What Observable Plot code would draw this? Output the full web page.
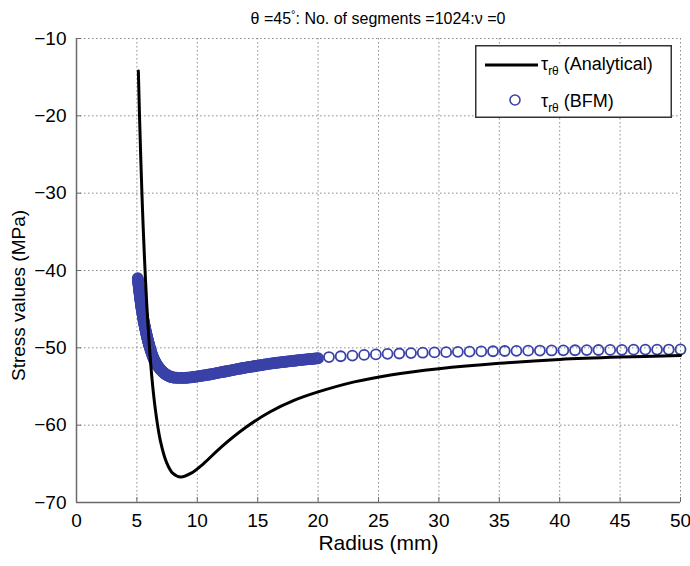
<!DOCTYPE html>
<html><head><meta charset="utf-8">
<script src="https://cdn.jsdelivr.net/npm/d3@7"></script>
<script src="https://cdn.jsdelivr.net/npm/@observablehq/plot@0.6"></script>
<style>
body{margin:0;background:#fff;font-family:"Liberation Sans",Arial,sans-serif;}
#wrap{position:relative;width:690px;height:566px;background:#fff;}
#title{position:absolute;left:0;top:0;height:30px;line-height:29px;font-size:16px;text-align:center;padding-left:76px;padding-right:10px;box-sizing:border-box;width:690px;color:#000;white-space:nowrap;}
#title .deg{font-size:11px;vertical-align:6px;}
#legend{position:absolute;left:475px;top:45px;width:197px;height:73px;}
</style></head>
<body>
<div id="wrap">
  <div id="chart"></div>
  <div id="title">θ =45<span class="deg">°</span>: No. of segments =1024:ν =0</div>
  <div id="legend"></div>
</div>
<script>
// ---- data ----
const xTicks = [0, 5, 10, 15, 20, 25, 30, 35, 40, 45, 50];
const yTicks = [-70, -60, -50, -40, -30, -20, -10];

// Analytical tau_r-theta (MPa) vs radius (mm)
const analyticalR = [5.12, 5.22, 5.32, 5.42, 5.52, 5.72, 5.92, 6.22, 6.53, 6.94, 7.45, 7.96, 8.63, 9.5, 10.5, 12, 14, 16, 18, 20, 23, 26, 30, 35, 40, 45, 50];
const analyticalTau = [-14.2, -20.2, -25.5, -30.2, -34.4, -41.5, -47.1, -53.5, -58.0, -62.0, -64.8, -66.2, -66.7, -66.2, -65.0, -62.8, -60.3, -58.3, -56.8, -55.7, -54.4, -53.5, -52.7, -52.0, -51.5, -51.2, -51.0];

// BFM points, dense part near the hole: [radius, tau]
const bfmDense = [
  [5.07,-41.00],[5.08,-41.14],[5.09,-41.27],[5.10,-41.41],[5.11,-41.54],[5.12,-41.68],[5.13,-41.81],[5.14,-41.94],
  [5.15,-42.07],[5.16,-42.20],[5.17,-42.33],[5.18,-42.46],[5.19,-42.59],[5.20,-42.72],[5.21,-42.84],[5.22,-42.97],
  [5.23,-43.09],[5.24,-43.22],[5.25,-43.34],[5.26,-43.46],[5.27,-43.58],[5.28,-43.70],[5.29,-43.82],[5.30,-43.94],
  [5.31,-44.05],[5.32,-44.17],[5.33,-44.28],[5.34,-44.39],[5.35,-44.50],[5.36,-44.61],[5.37,-44.72],[5.38,-44.83],[5.39,-44.93],
  [5.400,-45.03],[5.415,-45.18],[5.430,-45.33],[5.445,-45.48],[5.460,-45.62],[5.475,-45.76],[5.490,-45.90],[5.505,-46.04],
  [5.520,-46.17],[5.535,-46.30],[5.550,-46.43],[5.565,-46.56],[5.580,-46.68],[5.595,-46.80],[5.610,-46.92],[5.625,-47.04],
  [5.640,-47.15],[5.655,-47.27],[5.670,-47.38],[5.685,-47.49],[5.700,-47.60],[5.715,-47.71],[5.730,-47.82],[5.745,-47.93],
  [5.760,-48.03],[5.775,-48.14],[5.790,-48.24],[5.805,-48.34],[5.820,-48.44],[5.835,-48.54],[5.850,-48.64],[5.865,-48.74],
  [5.880,-48.83],[5.895,-48.93],[5.910,-49.02],[5.925,-49.11],[5.940,-49.20],[5.955,-49.29],[5.970,-49.38],[5.985,-49.47],
  [6.000,-49.55],[6.015,-49.64],[6.030,-49.72],[6.045,-49.80],
  [6.06,-49.88],[6.09,-50.04],[6.12,-50.20],[6.15,-50.35],[6.18,-50.50],[6.21,-50.64],[6.24,-50.78],[6.27,-50.91],
  [6.30,-51.04],[6.33,-51.16],[6.36,-51.28],[6.39,-51.39],[6.42,-51.50],[6.45,-51.60],[6.48,-51.70],[6.51,-51.79],
  [6.54,-51.88],[6.57,-51.96],[6.60,-52.04],[6.63,-52.12],[6.66,-52.20],
  [6.70,-52.29],[6.75,-52.40],[6.80,-52.51],[6.85,-52.61],[6.90,-52.71],[6.95,-52.80],[7.00,-52.89],[7.05,-52.97],
  [7.10,-53.05],[7.15,-53.12],[7.20,-53.19],[7.25,-53.26],[7.30,-53.32],[7.35,-53.38],[7.40,-53.43],[7.45,-53.48],
  [7.50,-53.53],[7.55,-53.57],[7.60,-53.61],[7.65,-53.65],[7.70,-53.68],[7.75,-53.71],[7.80,-53.74],[7.85,-53.77],
  [7.90,-53.79],[7.95,-53.81],[8.00,-53.83],[8.05,-53.84],
  [8.1,-53.85],[8.2,-53.86],[8.3,-53.87],[8.4,-53.88],[8.5,-53.89],[8.6,-53.89],[8.7,-53.89],[8.8,-53.89],[8.9,-53.89],[9.0,-53.88],
  [9.1,-53.87],[9.2,-53.86],[9.3,-53.85],[9.4,-53.83],[9.5,-53.81],[9.6,-53.79],[9.7,-53.77],[9.8,-53.75],[9.9,-53.73],[10.0,-53.70],
  [10.1,-53.68],[10.2,-53.65],[10.3,-53.63],[10.4,-53.60],[10.5,-53.58],[10.6,-53.55],[10.7,-53.53],[10.8,-53.50],[10.9,-53.48],[11.0,-53.45],
  [11.1,-53.42],[11.2,-53.39],[11.3,-53.36],[11.4,-53.33],[11.5,-53.30],[11.6,-53.27],[11.7,-53.24],[11.8,-53.21],[11.9,-53.18],[12.0,-53.15],
  [12.1,-53.12],[12.2,-53.09],[12.3,-53.06],[12.4,-53.03],[12.5,-53.00],[12.6,-52.97],[12.7,-52.94],[12.8,-52.91],[12.9,-52.88],[13.0,-52.85],
  [13.1,-52.82],[13.2,-52.79],[13.3,-52.76],[13.4,-52.73],[13.5,-52.70],[13.6,-52.67],[13.7,-52.64],[13.8,-52.61],[13.9,-52.58],[14.0,-52.55],
  [14.1,-52.53],[14.2,-52.50],[14.3,-52.48],[14.4,-52.45],[14.5,-52.43],[14.6,-52.40],[14.7,-52.38],[14.8,-52.35],[14.9,-52.33],[15.0,-52.30],
  [15.1,-52.28],[15.2,-52.25],[15.3,-52.23],[15.4,-52.20],[15.5,-52.18],[15.6,-52.15],[15.7,-52.13],[15.8,-52.10],[15.9,-52.08],[16.0,-52.05],
  [16.1,-52.03],[16.2,-52.01],[16.3,-51.99],[16.4,-51.97],[16.5,-51.95],[16.6,-51.93],[16.7,-51.91],[16.8,-51.89],[16.9,-51.87],[17.0,-51.85],
  [17.1,-51.83],[17.2,-51.81],[17.3,-51.80],[17.4,-51.78],[17.5,-51.76],[17.6,-51.74],[17.7,-51.73],[17.8,-51.71],[17.9,-51.69],[18.0,-51.67],
  [18.1,-51.66],[18.2,-51.64],[18.3,-51.62],[18.4,-51.60],[18.5,-51.59],[18.6,-51.57],[18.7,-51.55],[18.8,-51.53],[18.9,-51.52],[19.0,-51.50],
  [19.1,-51.49],[19.2,-51.47],[19.3,-51.46],[19.4,-51.44],[19.5,-51.43],[19.6,-51.41],[19.7,-51.40],[19.8,-51.38],[19.9,-51.37],[20.0,-51.35]
];
// BFM points, sparse part
const bfmSparseR = [20.9, 21.87, 22.84, 23.81, 24.78, 25.75, 26.72, 27.69, 28.66, 29.63, 30.6, 31.57, 32.54, 33.51, 34.48, 35.45,
  36.42, 37.39, 38.36, 39.33, 40.3, 41.27, 42.24, 43.21, 44.18, 45.15, 46.12, 47.09, 48.06, 49.03, 50];
const bfmSparseTau = [-51.19, -51.09, -51.00, -50.92, -50.85, -50.78, -50.73, -50.68, -50.63, -50.59, -50.56, -50.52, -50.49, -50.46, -50.44, -50.41,
  -50.39, -50.37, -50.35, -50.34, -50.32, -50.31, -50.29, -50.28, -50.27, -50.26, -50.24, -50.23, -50.23, -50.22, -50.21];

const seriesNames = ["(Analytical)", "(BFM)"];
const xLabel = "Radius (mm)";
const yLabel = "Stress values (MPa)";

// ---- styles ----
const blue = "#3a42a8";
const axisGray = "#6a6a6a";
const gridGray = "#8a8a8a";
const font = "'Liberation Sans', Arial, sans-serif";

const analytical = analyticalR.map((r, i) => ({r, tau: analyticalTau[i]}));
const bfm = bfmDense.map(([r, tau]) => ({r, tau}))
  .concat(bfmSparseR.map((r, i) => ({r, tau: bfmSparseTau[i]})));

const chart = Plot.plot({
  width: 690,
  height: 566,
  marginTop: 38,
  marginBottom: 64,
  marginLeft: 76,
  marginRight: 10,
  style: {fontFamily: font, background: "#fff", color: "#000"},
  x: {domain: [xTicks[0], xTicks[xTicks.length - 1]], ticks: xTicks, label: null},
  y: {domain: [yTicks[0], yTicks[yTicks.length - 1]], ticks: yTicks, label: null},
  marks: [
    Plot.gridX(xTicks, {stroke: gridGray, strokeOpacity: 1, strokeWidth: 1, strokeDasharray: "1.5,2.5"}),
    Plot.gridY(yTicks, {stroke: gridGray, strokeOpacity: 1, strokeWidth: 1, strokeDasharray: "1.5,2.5"}),
    Plot.ruleY([yTicks[0]], {stroke: axisGray, strokeWidth: 1.5}),
    Plot.ruleX([xTicks[0]], {stroke: axisGray, strokeWidth: 1.5}),
    Plot.axisX({ticks: xTicks, tickSize: 5, dy: -5, tickPadding: 11, stroke: axisGray, fill: "#000", fontSize: 19, label: null}),
    Plot.axisY({ticks: yTicks, tickSize: 5, dx: 5, tickPadding: 10, stroke: axisGray, fill: "#000", fontSize: 19, label: null}),
    Plot.text([xLabel], {frameAnchor: "bottom", dy: 47, fontSize: 21, fill: "#000"}),
    Plot.text([yLabel], {frameAnchor: "left", textAnchor: "middle", rotate: -90, dx: -58, dy: 25, fontSize: 19, fill: "#000"}),
    Plot.dot(bfm, {x: "r", y: "tau", r: 5, stroke: blue, strokeWidth: 1.8, fill: "none"}),
    Plot.line(analytical, {x: "r", y: "tau", stroke: "#000", strokeWidth: 3, curve: "catmull-rom"})
  ]
});
document.getElementById("chart").appendChild(chart);

// ---- legend ----
const leg = d3.select("#legend").append("svg")
  .attr("width", 197).attr("height", 73)
  .style("font-family", font);
leg.append("rect").attr("x", 0.75).attr("y", 0.75).attr("width", 195.5).attr("height", 71.5)
  .attr("fill", "#fff").attr("stroke", "#333").attr("stroke-width", 1.5);
leg.append("line").attr("x1", 10).attr("x2", 63).attr("y1", 20).attr("y2", 20)
  .attr("stroke", "#000").attr("stroke-width", 3);
leg.append("circle").attr("cx", 40).attr("cy", 55).attr("r", 5)
  .attr("fill", "none").attr("stroke", blue).attr("stroke-width", 1.6);
[[25, seriesNames[0]], [62, seriesNames[1]]].forEach(([y, name]) => {
  const t = leg.append("text").attr("x", 66).attr("y", y).attr("font-size", 18).attr("fill", "#000");
  t.append("tspan").text("τ");
  t.append("tspan").attr("font-size", 12).attr("dy", 5).text("rθ");
  t.append("tspan").attr("dy", -5).text(" " + name);
});
</script>
</body></html>
